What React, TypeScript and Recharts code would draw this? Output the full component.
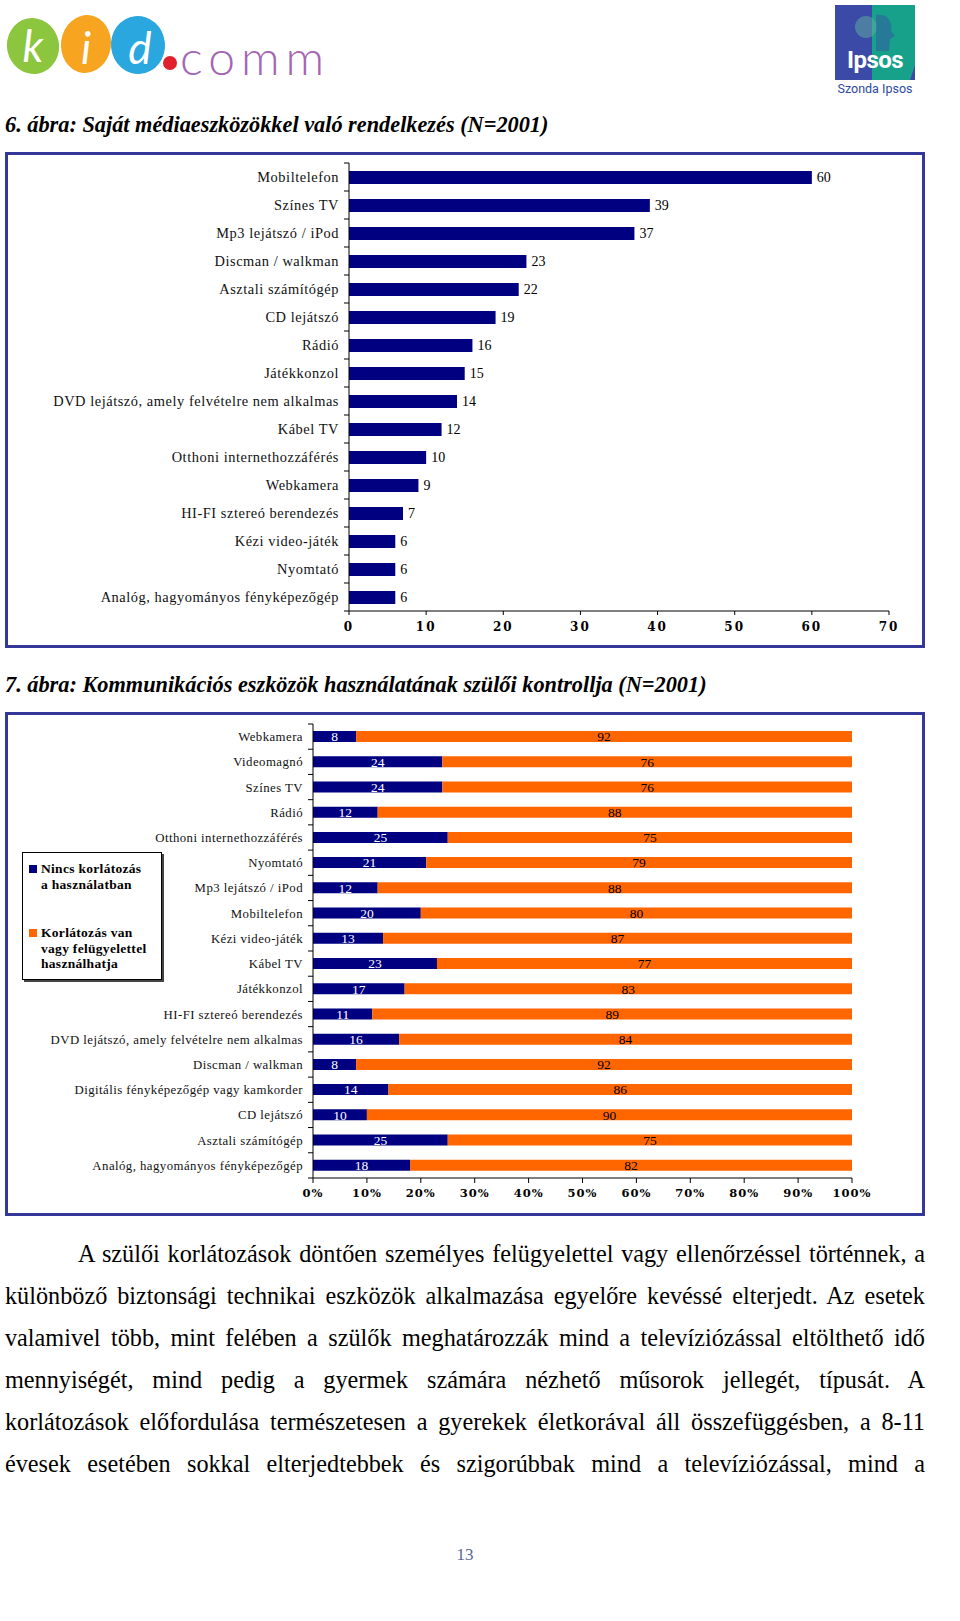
import React from 'react'
import { BarChart, Bar, XAxis, YAxis, LabelList } from 'recharts'

// 6. ábra
const ownCategories = [
  'Mobiltelefon',
  'Színes TV',
  'Mp3 lejátszó / iPod',
  'Discman / walkman',
  'Asztali számítógép',
  'CD lejátszó',
  'Rádió',
  'Játékkonzol',
  'DVD lejátszó, amely felvételre nem alkalmas',
  'Kábel TV',
  'Otthoni internethozzáférés',
  'Webkamera',
  'HI-FI sztereó berendezés',
  'Kézi video-játék',
  'Nyomtató',
  'Analóg, hagyományos fényképezőgép',
]
const ownValues = [60, 39, 37, 23, 22, 19, 16, 15, 14, 12, 10, 9, 7, 6, 6, 6]
const ownTicks = [0, 10, 20, 30, 40, 50, 60, 70]

// 7. ábra
const controlCategories = [
  'Webkamera',
  'Videomagnó',
  'Színes TV',
  'Rádió',
  'Otthoni internethozzáférés',
  'Nyomtató',
  'Mp3 lejátszó / iPod',
  'Mobiltelefon',
  'Kézi video-játék',
  'Kábel TV',
  'Játékkonzol',
  'HI-FI sztereó berendezés',
  'DVD lejátszó, amely felvételre nem alkalmas',
  'Discman / walkman',
  'Digitális fényképezőgép vagy kamkorder',
  'CD lejátszó',
  'Asztali számítógép',
  'Analóg, hagyományos fényképezőgép',
]
const noLimitValues = [8, 24, 24, 12, 25, 21, 12, 20, 13, 23, 17, 11, 16, 8, 14, 10, 25, 18]
const limitedValues = [92, 76, 76, 88, 75, 79, 88, 80, 87, 77, 83, 89, 84, 92, 86, 90, 75, 82]
const percentTicks = [0, 10, 20, 30, 40, 50, 60, 70, 80, 90, 100]
const seriesNames = ['Nincs korlátozás\na használatban', 'Korlátozás van\nvagy felügyelettel\nhasználhatja']

const bodyLines = [
  'A szülői korlátozások döntően személyes felügyelettel vagy ellenőrzéssel történnek, a',
  'különböző biztonsági technikai eszközök alkalmazása egyelőre kevéssé elterjedt. Az esetek',
  'valamivel több, mint felében a szülők meghatározzák mind a televíziózással eltölthető idő',
  'mennyiségét, mind pedig a gyermek számára nézhető műsorok jellegét, típusát. A',
  'korlátozások előfordulása természetesen a gyerekek életkorával áll összefüggésben, a 8-11',
  'évesek esetében sokkal elterjedtebbek és szigorúbbak mind a televíziózással, mind a',
]

const ownData = ownCategories.map((name, i) => ({ name, value: ownValues[i] }))
const controlData = controlCategories.map((name, i) => ({
  name,
  free: noLimitValues[i],
  limited: limitedValues[i],
}))

const NAVY = '#000080'
const ORANGE = '#ff6600'
const FRAME = '#35379a'
const SERIF = '"Liberation Serif", "Times New Roman", serif'
const TICKFONT = '"DejaVu Serif", serif'
const SQUEEZE = 0.95

// category tick with Excel-style tick marks between bands
function CatTick(props: any) {
  const { x, y, payload, index, half, count, fontSize, spacing } = props
  const ax = x + 5
  return (
    <g>
      <line x1={ax} x2={ax + 5} y1={y - half} y2={y - half} stroke="#000" />
      {index === count - 1 && (
        <line x1={ax} x2={ax + 5} y1={y + half} y2={y + half} stroke="#000" />
      )}
      <text
        x={x}
        y={y}
        dy="0.35em"
        textAnchor="end"
        fill="#111"
        style={{ fontFamily: SERIF, fontSize, letterSpacing: spacing }}
      >
        {payload.value}
      </text>
    </g>
  )
}

function Frame({ top, height, children }: any) {
  return (
    <div
      style={{
        position: 'absolute',
        left: 5,
        top,
        width: 914,
        height,
        border: `3px solid ${FRAME}`,
        background: '#fff',
      }}
    >
      {children}
    </div>
  )
}

function Title({ top, children }: any) {
  return (
    <div
      style={{
        position: 'absolute',
        left: 5,
        top,
        fontFamily: SERIF,
        fontStyle: 'italic',
        fontWeight: 'bold',
        fontSize: 22.3,
        whiteSpace: 'nowrap',
      }}
    >
      {children}
    </div>
  )
}

function KidLogo() {
  const letter = { fontFamily: 'Lato', fontSize: 44, fontStyle: 'italic' as const }
  return (
    <svg width={340} height={80} style={{ position: 'absolute', left: 2, top: 8 }}>
      <ellipse cx={31} cy={38} rx={26} ry={28} fill="#8cc63e" transform="rotate(-12 31 38)" />
      <ellipse cx={84} cy={36} rx={25} ry={29} fill="#f7a521" transform="rotate(8 84 36)" />
      <ellipse cx={136} cy={37} rx={27} ry={29} fill="#2aa7df" transform="rotate(-6 136 37)" />
      <text x={31} y={54} textAnchor="middle" fill="#fff" style={letter}>k</text>
      <text x={84} y={56} textAnchor="middle" fill="#fff" style={letter}>i</text>
      <text x={138} y={56} textAnchor="middle" fill="#fff" style={letter}>d</text>
      <circle cx={168} cy={55} r={7} fill="#e0202a" />
      <text
        x={178}
        y={67}
        fill="#a466b2"
        style={{ fontFamily: 'Lato', fontWeight: 300, fontSize: 48, letterSpacing: 6 }}
      >
        comm
      </text>
    </svg>
  )
}

function IpsosLogo() {
  return (
    <svg width={90} height={96} style={{ position: 'absolute', left: 832, top: 3 }}>
      <rect x={3} y={2} width={80} height={75} fill="#3a4aa6" />
      <path d="M40 2 L83 2 L83 62 L78 77 L40 77 Z" fill="#17a08a" />
      <circle cx={34} cy={24} r={11} fill="#5fb0a0" opacity={0.5} />
      <path d="M44 12 C56 10 61 20 59 28 L63 33 L58 36 L57 48 L44 48 Z" fill="#3a4aa6" opacity={0.45} />
      <text
        x={43}
        y={65}
        textAnchor="middle"
        fill="#fff"
        style={{ fontFamily: 'Roboto', fontWeight: 'bold', fontSize: 24, letterSpacing: -0.5 }}
      >
        Ipsos
      </text>
      <text x={43} y={90} textAnchor="middle" fill="#2d4aa0" style={{ fontFamily: 'Roboto', fontSize: 12.5 }}>
        Szonda Ipsos
      </text>
    </svg>
  )
}

function ControlLegend() {
  const colors = [NAVY, ORANGE]
  return (
    <div
      style={{
        position: 'absolute',
        left: 22,
        top: 852,
        width: 140,
        height: 128,
        border: '1px solid #000',
        boxShadow: '2px 2px 0 #444',
        background: '#fff',
        boxSizing: 'border-box',
        padding: '8px 0 0 6px',
        fontFamily: SERIF,
        fontWeight: 'bold',
        fontSize: 13.5,
        lineHeight: '15.5px',
        letterSpacing: 0.3,
      }}
    >
      {seriesNames.map((n, i) => (
        <div key={i} style={{ display: 'flex', marginBottom: 33 }}>
          <span
            style={{
              width: 8,
              height: 8,
              background: colors[i],
              marginTop: 4,
              marginRight: 4,
              flex: 'none',
            }}
          />
          <span style={{ whiteSpace: 'pre-line' }}>{n}</span>
        </div>
      ))}
    </div>
  )
}

export default function App() {
  const h1 = 490
  const m1 = { top: 8, right: 33, bottom: 4, left: 0 }
  const half1 = (h1 - m1.top - m1.bottom - 30) / ownData.length / 2

  const h2 = 498
  const m2 = { top: 9, right: 70, bottom: 5, left: 0 }
  const half2 = (h2 - m2.top - m2.bottom - 30) / controlData.length / 2

  return (
    <div style={{ position: 'absolute', left: 0, top: 0, width: 960, height: 1621, background: '#fff' }}>
      <KidLogo />
      <IpsosLogo />

      <Title top={112}>6. ábra: Saját médiaeszközökkel való rendelkezés (N=2001)</Title>
      <Frame top={152} height={490}>
        <BarChart width={914} height={h1} layout="vertical" data={ownData} margin={m1}>
          <XAxis
            type="number"
            domain={[0, 70]}
            ticks={ownTicks}
            interval={0}
            height={30}
            axisLine={{ stroke: '#000' }}
            tickLine={{ stroke: '#000' }}
            tickSize={4}
            tickMargin={7}
            tick={{ fill: '#000', fontFamily: TICKFONT, fontWeight: 'bold', fontSize: 12, letterSpacing: 2 }}
          />
          <YAxis
            type="category"
            dataKey="name"
            width={341}
            interval={0}
            axisLine={{ stroke: '#000' }}
            tickLine={false}
            tickSize={5}
            tickMargin={5}
            tick={(p: any) => (
              <CatTick {...p} half={half1} count={ownData.length} fontSize={14.4} spacing={0.55} />
            )}
          />
          <Bar dataKey="value" fill={NAVY} barSize={13} isAnimationActive={false}>
            <LabelList
              dataKey="value"
              position="right"
              offset={5}
              style={{ fill: '#000', fontFamily: SERIF, fontSize: 14 }}
            />
          </Bar>
        </BarChart>
      </Frame>

      <Title top={672}>7. ábra: Kommunikációs eszközök használatának szülői kontrollja (N=2001)</Title>
      <Frame top={712} height={498}>
        <BarChart width={914} height={h2} layout="vertical" data={controlData} margin={m2}>
          <XAxis
            type="number"
            domain={[0, 100]}
            ticks={percentTicks}
            interval={0}
            height={30}
            axisLine={{ stroke: '#000' }}
            tickLine={{ stroke: '#000' }}
            tickSize={5}
            tickMargin={6}
            tickFormatter={(v: number) => `${v}%`}
            tick={{ fill: '#000', fontFamily: TICKFONT, fontWeight: 'bold', fontSize: 11.5, letterSpacing: 1 }}
          />
          <YAxis
            type="category"
            dataKey="name"
            width={305}
            interval={0}
            axisLine={{ stroke: '#000' }}
            tickLine={false}
            tickSize={5}
            tickMargin={5}
            tick={(p: any) => (
              <CatTick {...p} half={half2} count={controlData.length} fontSize={12.8} spacing={0.45} />
            )}
          />
          <Bar dataKey="free" name={seriesNames[0]} stackId="s" fill={NAVY} barSize={11} isAnimationActive={false}>
            <LabelList
              dataKey="free"
              position="center"
              style={{ fill: '#fff', fontFamily: SERIF, fontSize: 13.5 }}
            />
          </Bar>
          <Bar
            dataKey="limited"
            name={seriesNames[1]}
            stackId="s"
            fill={ORANGE}
            barSize={11}
            isAnimationActive={false}
          >
            <LabelList
              dataKey="limited"
              position="center"
              style={{ fill: '#000', fontFamily: SERIF, fontSize: 13.5 }}
            />
          </Bar>
        </BarChart>
      </Frame>
      <ControlLegend />

      <div
        style={{
          position: 'absolute',
          left: 5,
          top: 1233,
          width: 920,
          fontFamily: SERIF,
          fontSize: 25.5,
          lineHeight: '42px',
          color: '#000',
        }}
      >
        {bodyLines.map((l, i) => (
          <div
            key={i}
            style={{
              width: 920 / SQUEEZE,
              textAlign: 'justify',
              textAlignLast: 'justify',
              textIndent: i === 0 ? 73 / SQUEEZE : 0,
              whiteSpace: 'nowrap',
              transform: `scaleX(${SQUEEZE})`,
              transformOrigin: 'left top',
            }}
          >
            {l}
          </div>
        ))}
      </div>

      <div
        style={{
          position: 'absolute',
          left: 0,
          width: 930,
          top: 1545,
          textAlign: 'center',
          fontFamily: SERIF,
          fontSize: 17,
          color: '#5a6890',
        }}
      >
        13
      </div>
    </div>
  )
}
